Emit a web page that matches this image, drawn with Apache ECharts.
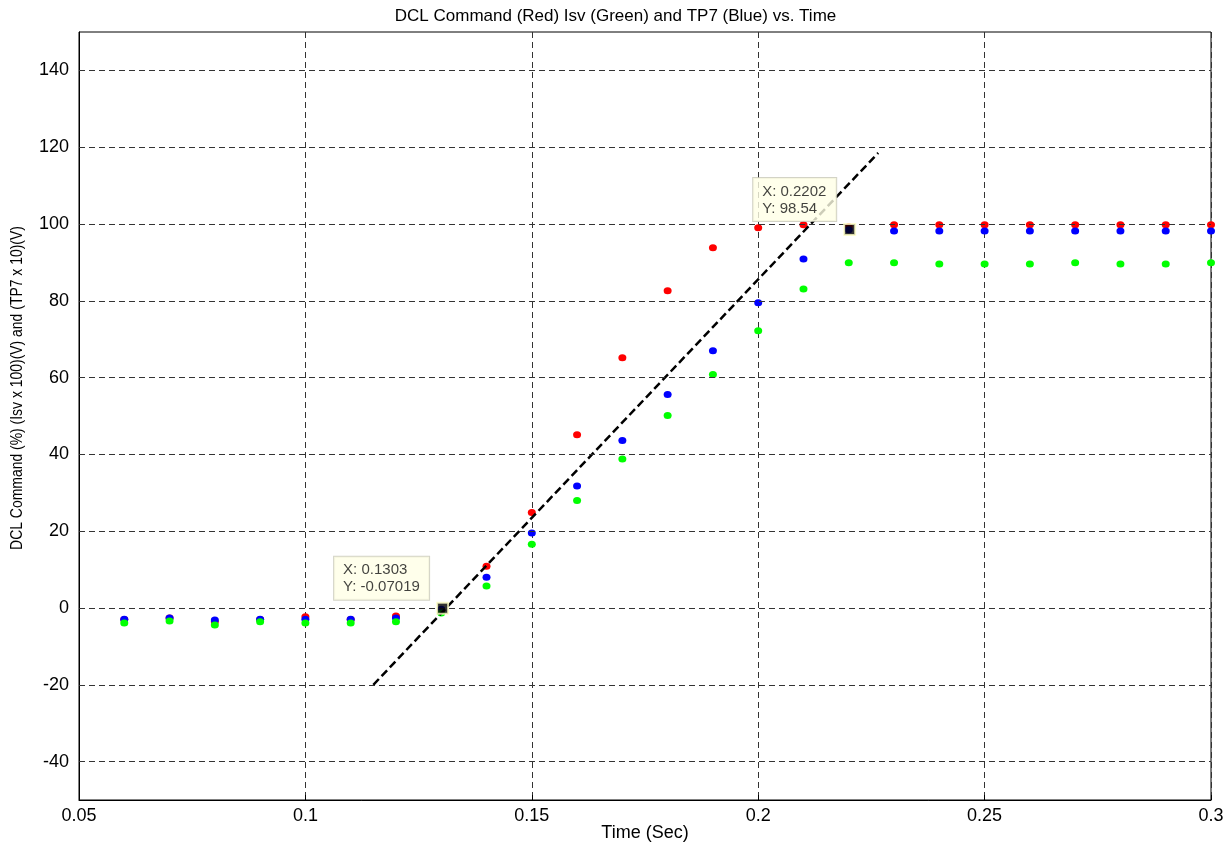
<!DOCTYPE html>
<html>
<head>
<meta charset="utf-8">
<script src="https://cdn.jsdelivr.net/npm/echarts@6/dist/echarts.min.js"></script>
<style>
  html, body { margin: 0; padding: 0; background: #fff; }
  #chart { width: 1231px; height: 848px; }
</style>
</head>
<body>
<div id="chart"></div>
<script>
// sample times (s)
const times = [0.06, 0.07, 0.08, 0.09, 0.10, 0.11, 0.12, 0.13, 0.14, 0.15, 0.16, 0.17, 0.18,
  0.19, 0.20, 0.21, 0.22, 0.23, 0.24, 0.25, 0.26, 0.27, 0.28, 0.29, 0.30]

// DCL command (red), TP7 x10 (blue), Isv x100 (green)
const dclCommand = [-3.0, -2.6, -3.6, -3.0, -2.3, -3.0, -2.1, -0.5, 10.9, 24.9, 45.1, 65.2, 82.6,
  93.8, 99.0, 99.8, 99.3, 99.8, 99.8, 99.8, 99.8, 99.8, 99.8, 99.8, 99.8]
const tp7 = [-2.9, -2.6, -3.1, -2.9, -2.9, -2.9, -2.6, -0.3, 8.0, 19.5, 31.8, 43.6, 55.6,
  67.0, 79.5, 90.9, 98.5, 98.2, 98.2, 98.2, 98.2, 98.2, 98.2, 98.2, 98.2]
const isv = [-3.9, -3.4, -4.4, -3.6, -3.9, -3.9, -3.6, -1.3, 5.7, 16.6, 28.0, 38.8, 50.1,
  60.8, 72.2, 83.1, 89.9, 89.9, 89.6, 89.6, 89.6, 89.9, 89.6, 89.6, 89.9]

// hand drawn slope line
const slopeX = [0.115, 0.2265]
const slopeY = [-20, 118.5]

// data tips
const tipX = [0.1303, 0.2202]
const tipY = [-0.07019, 98.54]

const yTicks = [-40, -20, 0, 20, 40, 60, 80, 100, 120, 140]

const FONT = "'Liberation Sans', Arial, sans-serif"
const TIP_FONT_SIZE = 15

const pairs = (xs, ys) => xs.map((x, i) => [x, ys[i]])

// width of the widest line of a data tip, so the box can sit left of its marker
const measureCtx = document.createElement('canvas').getContext('2d')
measureCtx.font = `${TIP_FONT_SIZE}px ${FONT}`
const tipText = (x, y) => `X: ${x}\nY: ${y}`
const tipWidth = (x, y) =>
  Math.ceil(Math.max(...tipText(x, y).split('\n').map((s) => measureCtx.measureText(s).width)))

const dots = (name, values, color) => ({
  name,
  type: 'scatter',
  data: pairs(times, values),
  symbol: 'circle',
  symbolSize: [8, 7],
  itemStyle: { color, opacity: 1 },
  z: 3,
  silent: true,
})

const chart = echarts.init(document.getElementById('chart'))

chart.setOption({
  animation: false,
  title: {
    text: 'DCL Command (Red) Isv (Green) and TP7 (Blue) vs. Time',
    left: 'center',
    top: 3,
    textStyle: { fontFamily: FONT, fontSize: 17, fontWeight: 'normal', color: '#000' },
  },
  grid: {
    left: 79,
    right: 20,
    top: 32,
    bottom: 48,
    outerBoundsMode: 'none',
    show: true,
    borderColor: '#000',
    borderWidth: 1,
  },
  xAxis: {
    type: 'value',
    min: 0.05,
    max: 0.3,
    interval: 0.05,
    name: 'Time (Sec)',
    nameLocation: 'middle',
    nameGap: 24,
    nameMoveOverlap: false,
    nameTextStyle: { fontFamily: FONT, fontSize: 18, color: '#000' },
    axisLine: { show: true, onZero: false, lineStyle: { color: '#000', width: 1 } },
    axisTick: { show: true, inside: true, length: 5, lineStyle: { color: '#000' } },
    axisLabel: {
      fontFamily: FONT,
      fontSize: 18,
      color: '#000',
      margin: 7,
      formatter: (v) => String(Number(v.toFixed(2))),
    },
    splitLine: { show: true, lineStyle: { color: '#333', type: [6, 4], width: 1 } },
  },
  yAxis: {
    type: 'value',
    min: -50,
    max: 150,
    interval: 10,
    axisLine: { show: true, onZero: false, lineStyle: { color: '#000', width: 1 } },
    axisTick: {
      show: true,
      inside: true,
      length: 5,
      customValues: yTicks,
      lineStyle: { color: '#000' },
    },
    axisLabel: {
      fontFamily: FONT,
      fontSize: 18,
      color: '#000',
      margin: 10,
      customValues: yTicks,
      formatter: (v) => (v % 20 === 0 && v > -50 && v < 150 ? String(v) : ''),
    },
    splitLine: { show: false },
  },
  graphic: [
    {
      type: 'text',
      x: 17,
      y: 388,
      rotation: Math.PI / 2,
      scaleX: 0.82,
      style: {
        text: 'DCL Command (%) (Isv x 100)(V) and (TP7 x 10)(V)',
        fontFamily: FONT,
        fontSize: 17,
        fill: '#000',
        align: 'center',
        verticalAlign: 'middle',
      },
    },
  ],
  series: [
    {
      name: 'grid-y',
      type: 'line',
      data: [],
      silent: true,
      z: 1,
      markLine: {
        silent: true,
        symbol: ['none', 'none'],
        label: { show: false },
        lineStyle: { color: '#333', type: [6, 4], width: 1 },
        data: yTicks.map((v) => ({ yAxis: v })),
      },
    },
    dots('DCL Command', dclCommand, '#ff0000'),
    dots('TP7', tp7, '#0000ff'),
    dots('Isv', isv, '#00ff00'),
    {
      name: 'slope',
      type: 'line',
      data: pairs(slopeX, slopeY),
      symbol: 'none',
      silent: true,
      z: 4,
      lineStyle: { color: '#000', width: 2.5, type: [8, 4] },
    },
    {
      name: 'datatip',
      type: 'scatter',
      data: tipX.map((x, i) => {
        const w = tipWidth(x, tipY[i])
        return {
          value: [x, tipY[i]],
          label: { width: w, position: [-(w + 18 + 2 + 5), -2] },
        }
      }),
      symbol: 'rect',
      symbolSize: 11,
      silent: true,
      z: 6,
      itemStyle: { color: '#000', borderColor: '#ffffc8', borderWidth: 2 },
      label: {
        show: true,
        align: 'left',
        verticalAlign: 'bottom',
        formatter: (p) => tipText(p.value[0], p.value[1]),
        fontFamily: FONT,
        fontSize: TIP_FONT_SIZE,
        lineHeight: 17,
        color: '#111',
        backgroundColor: '#ffffe6',
        borderColor: '#c8c8b8',
        borderWidth: 1,
        padding: [5, 9, 4, 9],
      },
    },
  ],
})
</script>
</body>
</html>
